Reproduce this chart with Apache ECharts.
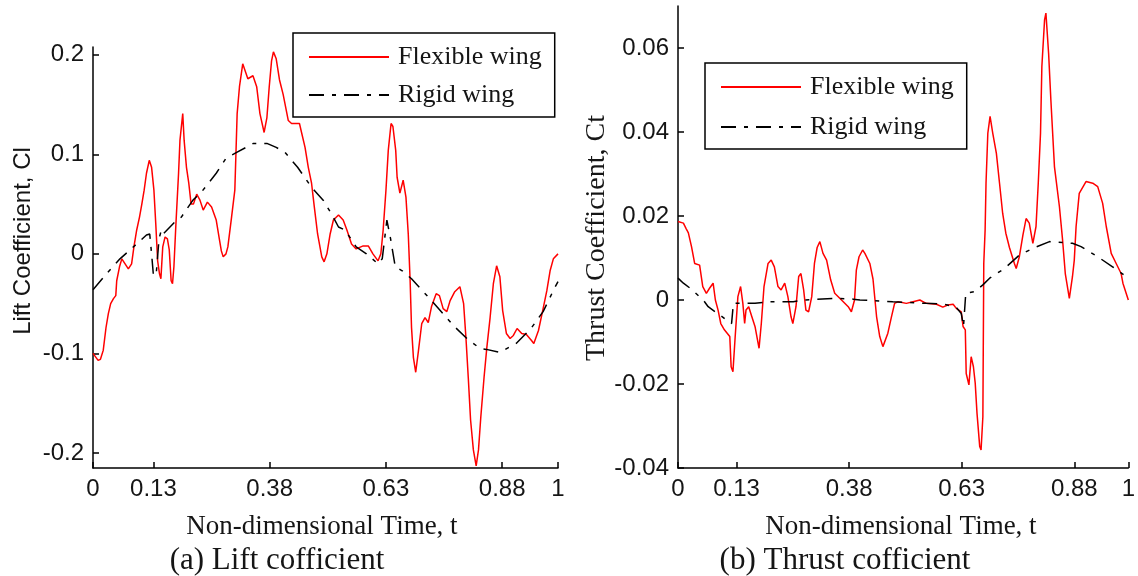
<!DOCTYPE html>
<html>
<head>
<meta charset="utf-8">
<script src="https://cdn.jsdelivr.net/npm/echarts@6/dist/echarts.min.js"></script>
<style>
html,body{margin:0;padding:0;background:#fff;}
#chart{width:1138px;height:576px;}
</style>
</head>
<body>
<div id="chart"></div>
<script>
// ---------- DATA ----------
const xTicks = [0, 0.13, 0.38, 0.63, 0.88, 1];
const liftTicks = [-0.2, -0.1, 0, 0.1, 0.2];
const thrustTicks = [-0.04, -0.02, 0, 0.02, 0.04, 0.06];
const seriesNames = ['Flexible wing', 'Rigid wing'];

// (a) Lift coefficient - flexible wing
const liftFlexT = [0.000,0.011,0.016,0.022,0.028,0.033,0.038,0.044,0.049,0.051,0.057,0.062,0.069,0.076,0.083,0.088,0.094,0.100,0.105,0.110,0.115,0.121,0.124,0.126,0.131,0.135,0.139,0.143,0.146,0.150,0.155,0.160,0.164,0.168,0.171,0.174,0.178,0.184,0.187,0.193,0.196,0.201,0.206,0.211,0.216,0.223,0.230,0.237,0.246,0.255,0.265,0.272,0.276,0.280,0.286,0.290,0.298,0.305,0.310,0.315,0.322,0.326,0.333,0.344,0.352,0.359,0.368,0.374,0.379,0.384,0.388,0.394,0.401,0.409,0.420,0.427,0.444,0.449,0.456,0.463,0.470,0.476,0.483,0.492,0.497,0.503,0.510,0.517,0.528,0.538,0.546,0.556,0.566,0.581,0.592,0.602,0.613,0.619,0.624,0.630,0.635,0.641,0.645,0.651,0.654,0.660,0.667,0.673,0.678,0.682,0.685,0.689,0.694,0.700,0.707,0.714,0.721,0.728,0.738,0.745,0.753,0.761,0.768,0.778,0.789,0.797,0.802,0.807,0.812,0.818,0.824,0.829,0.834,0.841,0.847,0.854,0.861,0.868,0.875,0.881,0.889,0.897,0.904,0.912,0.922,0.932,0.943,0.948,0.958,0.968,0.976,0.983,0.990,1.000];
const liftFlex = [-0.100,-0.107,-0.106,-0.097,-0.074,-0.060,-0.050,-0.045,-0.042,-0.027,-0.013,-0.005,-0.010,-0.015,-0.010,0.007,0.024,0.037,0.050,0.064,0.081,0.094,0.096,0.087,0.064,0.030,-0.007,-0.020,-0.025,0.007,0.017,0.015,0.004,-0.027,-0.030,-0.013,0.027,0.081,0.114,0.141,0.114,0.087,0.071,0.050,0.050,0.060,0.054,0.044,0.052,0.047,0.034,0.014,0.003,-0.003,0.000,0.007,0.037,0.064,0.141,0.168,0.191,0.192,0.176,0.179,0.168,0.141,0.122,0.137,0.168,0.194,0.203,0.196,0.175,0.160,0.134,0.131,0.131,0.121,0.107,0.087,0.071,0.047,0.020,-0.003,-0.008,0.000,0.020,0.034,0.039,0.034,0.024,0.010,0.005,0.008,0.008,0.000,-0.007,0.000,0.024,0.064,0.104,0.131,0.128,0.104,0.077,0.061,0.074,0.057,0.020,-0.027,-0.074,-0.104,-0.119,-0.097,-0.070,-0.064,-0.069,-0.053,-0.040,-0.042,-0.055,-0.058,-0.047,-0.038,-0.033,-0.050,-0.084,-0.124,-0.167,-0.197,-0.213,-0.197,-0.164,-0.124,-0.094,-0.064,-0.030,-0.012,-0.023,-0.057,-0.080,-0.085,-0.082,-0.075,-0.080,-0.081,-0.087,-0.090,-0.077,-0.055,-0.037,-0.017,-0.005,0.000];

// (a) Lift coefficient - rigid wing
const liftRigidT = [0.000,0.029,0.058,0.094,0.115,0.122,0.126,0.130,0.136,0.142,0.147,0.151,0.180,0.190,0.215,0.233,0.265,0.286,0.309,0.345,0.374,0.394,0.413,0.440,0.470,0.495,0.513,0.528,0.542,0.566,0.588,0.613,0.622,0.632,0.640,0.650,0.665,0.685,0.728,0.743,0.775,0.804,0.832,0.846,0.875,0.910,0.942,0.968,0.994,1.000];
const liftRigid = [-0.036,-0.020,-0.005,0.010,0.019,0.020,0.000,-0.022,-0.020,0.015,0.024,0.020,0.034,0.037,0.054,0.062,0.081,0.096,0.102,0.111,0.111,0.107,0.102,0.087,0.067,0.054,0.040,0.027,0.024,0.007,0.000,-0.010,-0.005,0.034,0.015,-0.013,-0.017,-0.025,-0.047,-0.055,-0.072,-0.085,-0.095,-0.096,-0.099,-0.090,-0.075,-0.058,-0.033,-0.028];

// (b) Thrust coefficient - flexible wing
const thrustFlexT = [0.000,0.012,0.018,0.023,0.030,0.037,0.048,0.055,0.063,0.070,0.078,0.083,0.089,0.095,0.103,0.115,0.118,0.122,0.127,0.133,0.139,0.144,0.148,0.151,0.157,0.164,0.171,0.180,0.185,0.191,0.200,0.207,0.214,0.222,0.229,0.237,0.244,0.251,0.255,0.262,0.268,0.273,0.279,0.284,0.290,0.297,0.303,0.309,0.315,0.322,0.330,0.339,0.348,0.367,0.378,0.385,0.392,0.396,0.402,0.410,0.415,0.426,0.433,0.441,0.448,0.455,0.466,0.474,0.481,0.489,0.507,0.522,0.537,0.551,0.574,0.588,0.599,0.611,0.618,0.629,0.633,0.638,0.640,0.646,0.651,0.656,0.660,0.664,0.670,0.673,0.677,0.679,0.682,0.684,0.688,0.693,0.699,0.707,0.714,0.721,0.728,0.736,0.747,0.751,0.758,0.766,0.773,0.780,0.788,0.795,0.800,0.805,0.808,0.814,0.817,0.823,0.828,0.836,0.847,0.854,0.860,0.869,0.876,0.880,0.884,0.891,0.906,0.921,0.932,0.943,0.951,0.962,0.973,0.984,0.988,1.000];
const thrustFlex = [0.0187,0.0183,0.0170,0.0160,0.0127,0.0087,0.0083,0.0032,0.0016,0.0028,0.0040,0.0000,-0.0024,-0.0056,-0.0071,-0.0087,-0.0159,-0.0171,-0.0087,0.0008,0.0032,-0.0008,-0.0056,-0.0024,-0.0016,-0.0040,-0.0063,-0.0115,-0.0056,0.0032,0.0087,0.0095,0.0079,0.0032,0.0024,0.0040,0.0008,-0.0040,-0.0056,-0.0016,0.0056,0.0063,0.0024,-0.0024,-0.0028,0.0008,0.0087,0.0125,0.0139,0.0111,0.0095,0.0048,0.0016,-0.0004,-0.0016,-0.0028,0.0000,0.0071,0.0103,0.0119,0.0111,0.0087,0.0050,-0.0040,-0.0087,-0.0111,-0.0079,-0.0040,-0.0008,-0.0004,-0.0008,-0.0004,0.0000,-0.0008,-0.0010,-0.0017,-0.0012,-0.0010,-0.0020,-0.0028,-0.0063,-0.0071,-0.0175,-0.0202,-0.0135,-0.0159,-0.0198,-0.0270,-0.0349,-0.0357,-0.0278,0.0087,0.0167,0.0278,0.0397,0.0437,0.0397,0.0349,0.0278,0.0206,0.0159,0.0125,0.0087,0.0075,0.0103,0.0155,0.0194,0.0183,0.0135,0.0175,0.0278,0.0397,0.0556,0.0667,0.0683,0.0587,0.0476,0.0317,0.0222,0.0143,0.0063,0.0004,0.0056,0.0095,0.0175,0.0254,0.0282,0.0278,0.0270,0.0230,0.0175,0.0111,0.0087,0.0063,0.0040,0.0000];

// (b) Thrust coefficient - rigid wing
const thrustRigidT = [0.000,0.012,0.027,0.056,0.067,0.093,0.119,0.123,0.134,0.171,0.204,0.256,0.278,0.352,0.389,0.404,0.477,0.551,0.592,0.618,0.629,0.634,0.639,0.659,0.677,0.692,0.725,0.758,0.788,0.825,0.876,0.895,0.932,0.965,1.000];
const thrustRigid = [0.0052,0.0040,0.0028,0.0000,-0.0016,-0.0036,-0.0056,-0.0008,-0.0008,-0.0008,-0.0004,-0.0004,0.0000,0.0004,0.0002,0.0000,-0.0004,-0.0008,-0.0010,-0.0018,-0.0032,-0.0063,0.0016,0.0020,0.0036,0.0052,0.0075,0.0107,0.0123,0.0139,0.0135,0.0127,0.0103,0.0079,0.0052];

// ---------- STYLE / LAYOUT ----------
const zip = (t, v) => t.map((x, i) => [x, v[i]]);
const fmt = v => String(Math.round(v * 100) / 100);
const sans = "'Liberation Sans', Arial, sans-serif";
const serif = "'Liberation Serif', 'Times New Roman', serif";
const ink = '#151515';
const dashDot = [15, 8, 4, 8];

function xAxisCfg(gridIndex) {
  return {
    gridIndex, type: 'value', min: 0, max: 1,
    axisLine: { show: true, onZero: false, lineStyle: { color: '#000', width: 1.5 } },
    axisTick: { show: true, inside: true, length: 6, customValues: xTicks, lineStyle: { color: '#000', width: 1.5 } },
    axisLabel: { customValues: xTicks, formatter: fmt, margin: 9, fontFamily: sans, fontSize: 24, color: ink },
    splitLine: { show: false }
  };
}
function yAxisCfg(gridIndex, min, max, ticks) {
  return {
    gridIndex, type: 'value', min, max,
    axisLine: { show: true, onZero: false, lineStyle: { color: '#000', width: 1.5 } },
    axisTick: { show: true, inside: true, length: 6, customValues: ticks, lineStyle: { color: '#000', width: 1.5 } },
    axisLabel: { customValues: ticks, formatter: fmt, margin: 9, fontFamily: sans, fontSize: 24, color: ink },
    splitLine: { show: false }
  };
}
function lineSeries(name, data, idx, color, type) {
  return {
    name, type: 'line', data, xAxisIndex: idx, yAxisIndex: idx,
    symbol: 'none', showSymbol: false, smooth: false, clip: true,
    lineStyle: { color, width: 1.5, type },
    itemStyle: { color },
    emphasis: { disabled: true }
  };
}
function legendCfg(left, top, gap) {
  return {
    left, top, orient: 'vertical', data: seriesNames,
    itemWidth: 80, itemHeight: 14, itemGap: gap,
    padding: [9, 13, 7, 15],
    borderColor: '#000', borderWidth: 1.5, backgroundColor: '#fff',
    itemStyle: { color: 'rgba(0,0,0,0)', borderWidth: 0, opacity: 0 },
    textStyle: { fontFamily: serif, fontSize: 26, color: ink, lineHeight: 30, padding: [0, 0, 0, 4] }
  };
}
function txt(text, x, y, font, rot) {
  return {
    type: 'text', x, y, rotation: rot || 0, silent: true,
    style: { text, font, fill: ink, textAlign: 'center', textVerticalAlign: 'middle' }
  };
}

const chart = echarts.init(document.getElementById('chart'), null, { renderer: 'canvas' });
chart.setOption({
  animation: false,
  backgroundColor: '#fff',
  grid: [
    { left: 93, top: 47, width: 465, height: 421 },
    { left: 678, top: 6, width: 451, height: 462 }
  ],
  xAxis: [xAxisCfg(0), xAxisCfg(1)],
  yAxis: [yAxisCfg(0, -0.2152, 0.2079, liftTicks), yAxisCfg(1, -0.04, 0.07, thrustTicks)],
  legend: [legendCfg(293, 33, 8), legendCfg(705, 63, 10)],
  series: [
    lineSeries(seriesNames[0], zip(liftFlexT, liftFlex), 0, '#ff0000', 'solid'),
    lineSeries(seriesNames[1], zip(liftRigidT, liftRigid), 0, '#000000', dashDot),
    lineSeries(seriesNames[0], zip(thrustFlexT, thrustFlex), 1, '#ff0000', 'solid'),
    lineSeries(seriesNames[1], zip(thrustRigidT, thrustRigid), 1, '#000000', dashDot)
  ],
  graphic: [
    txt('Lift Coefficient, Cl', 23, 241, '24px ' + sans, Math.PI / 2),
    txt('Thrust Coefficient, Ct', 597, 238, '28px ' + serif, Math.PI / 2),
    txt('Non-dimensional Time, t', 322, 527, '27px ' + serif),
    txt('Non-dimensional Time, t', 901, 527, '27px ' + serif),
    txt('(a) Lift cofficient', 277, 561, '31px ' + serif),
    txt('(b) Thrust cofficient', 845, 561, '31px ' + serif)
  ]
});
</script>
</body>
</html>
